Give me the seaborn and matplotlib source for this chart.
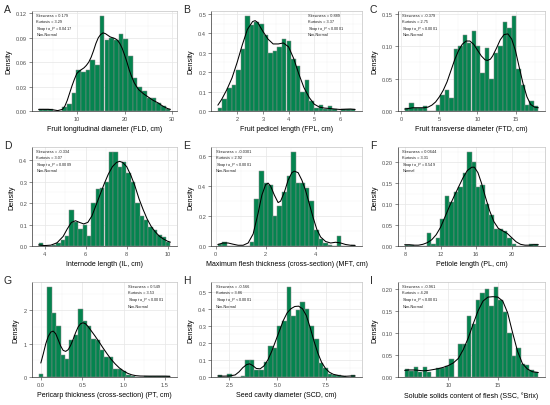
import numpy as np
import pandas as pd
import matplotlib
matplotlib.use("Agg")
import matplotlib.pyplot as plt
from matplotlib.ticker import AutoMinorLocator
import seaborn as sns

# ---- values ----
# each histogram: (first edge, last edge), bar densities, and the density curve
fld_range = (2.0, 29.6)
fld_heights = [0.002, 0.002, 0.002, 0, 0, 0.005, 0.008, 0.022, 0.050, 0.048, 0.050, 0.063, 0.056, 0.117,
               0.087, 0.090, 0.087, 0.095, 0.088, 0.067, 0.040, 0.029, 0.024, 0.016, 0.016, 0.010, 0.006, 0.003]
fld_curve_x = [2, 3, 4, 5, 6, 7, 7.5, 8, 8.5, 9, 9.5, 10, 10.5, 11, 11.5, 12, 12.5, 13, 13.5, 14, 14.5, 15,
               15.5, 16, 16.5, 17, 17.5, 18, 18.5, 19, 19.5, 20, 20.5, 21, 21.5, 22, 22.5, 23, 24, 25, 26,
               27, 28, 29, 29.6]
fld_curve_y = [0.002, 0.002, 0.002, 0.0015, 0.0005, 0.002, 0.006, 0.013, 0.022, 0.031, 0.039, 0.046, 0.049,
               0.051, 0.053, 0.056, 0.060, 0.066, 0.074, 0.083, 0.090, 0.094, 0.096, 0.095, 0.093, 0.091,
               0.090, 0.089, 0.087, 0.083, 0.077, 0.069, 0.060, 0.050, 0.042, 0.035, 0.030, 0.026, 0.021,
               0.017, 0.013, 0.010, 0.006, 0.003, 0.002]
fld_stats = ["0.179", "3.29", "= 0.0417", "Non-Normal"]

fpl_range = (1.25, 6.59)
fpl_heights = [0.015, 0.06, 0.12, 0.135, 0.21, 0.32, 0.49, 0.44, 0.46, 0.45, 0.39, 0.30, 0.31, 0.33, 0.37,
               0.36, 0.27, 0.23, 0.10, 0.16, 0.05, 0.015, 0.03, 0.01, 0.025, 0.01, 0.0, 0.01, 0.012, 0.012]
fpl_curve_x = [1.25, 1.4, 1.6, 1.8, 2.0, 2.2, 2.4, 2.6, 2.7, 2.8, 3.0, 3.2, 3.4, 3.6, 3.8, 4.0, 4.2, 4.4,
               4.6, 4.8, 5.0, 5.2, 5.4, 5.6, 5.8, 6.0, 6.2, 6.4, 6.59]
fpl_curve_y = [0.03, 0.06, 0.11, 0.17, 0.25, 0.34, 0.42, 0.46, 0.465, 0.455, 0.41, 0.37, 0.345, 0.345,
               0.35, 0.33, 0.27, 0.19, 0.12, 0.07, 0.035, 0.02, 0.015, 0.013, 0.01, 0.008, 0.009, 0.01, 0.008]
fpl_stats = ["0.889", "3.37", "< 0.0001", "Non-Normal"]

ftd_range = (0.43, 18.0)
ftd_heights = [0.004, 0.012, 0.004, 0.005, 0.007, 0, 0, 0.009, 0.025, 0.033, 0.02, 0.095, 0.10, 0.118,
               0.105, 0.124, 0.10, 0.058, 0.098, 0.05, 0.09, 0.10, 0.138, 0.128, 0.147, 0.065, 0.04, 0.01,
               0.015, 0.008]
ftd_curve_x = [0.43, 1, 1.5, 2, 2.5, 3, 3.5, 4, 4.5, 5, 5.5, 6, 6.5, 7, 7.5, 8, 8.5, 9, 9.5, 10, 10.5, 11,
               11.3, 11.7, 12, 12.5, 13, 13.5, 14, 14.5, 15, 15.5, 16, 16.5, 17, 17.5, 18.0]
ftd_curve_y = [0.003, 0.004, 0.005, 0.005, 0.005, 0.005, 0.006, 0.009, 0.014, 0.022, 0.032, 0.045, 0.062,
               0.079, 0.093, 0.103, 0.108, 0.108, 0.103, 0.094, 0.085, 0.079, 0.078, 0.080, 0.085, 0.097,
               0.110, 0.118, 0.119, 0.111, 0.093, 0.067, 0.042, 0.022, 0.010, 0.006, 0.005]
ftd_stats = ["-0.379", "2.75", "< 0.0001", "Non-Normal"]

il_range = (3.7, 10.13)
il_heights = [0.012, 0, 0, 0.005, 0.012, 0.03, 0.045, 0.17, 0.11, 0.08, 0.10, 0.045, 0.20, 0.265, 0.27,
              0.30, 0.44, 0.44, 0.37, 0.39, 0.34, 0.30, 0.20, 0.14, 0.12, 0.09, 0.075, 0.05, 0.04, 0.02]
il_curve_x = [3.7, 4.0, 4.3, 4.6, 4.9, 5.1, 5.3, 5.5, 5.7, 5.9, 6.1, 6.3, 6.5, 6.7, 6.9, 7.1, 7.3, 7.5,
              7.65, 7.8, 8.0, 8.2, 8.4, 8.6, 8.8, 9.0, 9.2, 9.4, 9.6, 9.8, 10.0, 10.13]
il_curve_y = [0.005, 0.002, 0.004, 0.015, 0.045, 0.08, 0.11, 0.118, 0.11, 0.103, 0.11, 0.14, 0.19, 0.24,
              0.29, 0.335, 0.37, 0.39, 0.395, 0.39, 0.37, 0.33, 0.28, 0.22, 0.17, 0.125, 0.09, 0.065,
              0.045, 0.032, 0.022, 0.018]
il_stats = ["-0.334", "3.07", "= 0.0009", "Non-Normal"]

mft_range = (0.09, 5.58)
mft_heights = [0.013, 0.026, 0, 0, 0, 0, 0, 0.026, 0.315, 0.50, 0.42, 0.41, 0.20, 0.27, 0.36, 0.465, 0.63,
               0.42, 0.42, 0.39, 0.30, 0.11, 0.05, 0.02, 0.01, 0, 0.07, 0, 0, 0.01]
mft_curve_x = [0.09, 0.3, 0.5, 0.7, 0.9, 1.1, 1.3, 1.5, 1.7, 1.85, 2.0, 2.1, 2.2, 2.35, 2.5, 2.6, 2.75,
               2.9, 3.05, 3.15, 3.3, 3.45, 3.6, 3.75, 3.9, 4.05, 4.2, 4.4, 4.6, 4.8, 5.0, 5.2, 5.4, 5.58]
mft_curve_y = [0.01, 0.02, 0.02, 0.012, 0.005, 0.005, 0.02, 0.08, 0.22, 0.34, 0.41, 0.42, 0.40, 0.34,
               0.29, 0.30, 0.36, 0.44, 0.49, 0.50, 0.49, 0.44, 0.37, 0.28, 0.19, 0.11, 0.06, 0.03, 0.02,
               0.025, 0.02, 0.01, 0.005, 0.004]
mft_stats = ["-0.0301", "2.92", "< 0.0001", "Non-Normal"]

pl_range = (7.95, 23.0)
pl_heights = [0.003, 0.003, 0, 0, 0, 0.03, 0.005, 0.02, 0.065, 0.12, 0.105, 0.13, 0.14, 0.175, 0.225,
              0.20, 0.14, 0.145, 0.10, 0.075, 0.04, 0.04, 0.035, 0.02, 0.005, 0, 0, 0, 0.004, 0.004]
pl_curve_x = [7.95, 8.5, 9, 9.5, 10, 10.5, 11, 11.5, 12, 12.5, 13, 13.5, 14, 14.5, 15, 15.5, 15.8, 16.2,
              16.6, 17, 17.5, 18, 18.5, 19, 19.5, 20, 20.5, 21, 21.5, 22, 22.5, 23]
pl_curve_y = [0.003, 0.003, 0.002, 0.002, 0.004, 0.008, 0.015, 0.027, 0.045, 0.07, 0.095, 0.118, 0.14,
              0.162, 0.18, 0.188, 0.188, 0.175, 0.15, 0.12, 0.085, 0.058, 0.042, 0.036, 0.03, 0.02, 0.01,
              0.004, 0.002, 0.002, 0.003, 0.003]
pl_stats = ["0.0644", "3.31", "= 0.549", "Normal"]

pt_range = (-0.027, 1.566)
pt_heights = [0.1, 0, 2.72, 1.92, 1.53, 0.66, 0.53, 1.1, 1.25, 2.05, 1.68, 1.53, 1.15, 1.1, 0.8, 0.6,
              0.6, 0.25, 0.25, 0.18, 0.05, 0.02, 0, 0, 0.03, 0.02, 0.03, 0.02, 0.03, 0.03]
pt_curve_x = [0, 0.03, 0.06, 0.09, 0.12, 0.15, 0.18, 0.21, 0.24, 0.27, 0.30, 0.33, 0.36, 0.39, 0.42,
              0.45, 0.48, 0.51, 0.54, 0.57, 0.6, 0.65, 0.7, 0.75, 0.8, 0.85, 0.9, 0.95, 1.0, 1.05, 1.1,
              1.15, 1.2, 1.3, 1.4, 1.5, 1.56]
pt_curve_y = [0.42, 0.7, 1.0, 1.22, 1.35, 1.38, 1.3, 1.12, 0.93, 0.8, 0.77, 0.82, 0.95, 1.13, 1.33, 1.5,
              1.6, 1.63, 1.6, 1.52, 1.42, 1.25, 1.07, 0.88, 0.7, 0.53, 0.39, 0.27, 0.18, 0.11, 0.065,
              0.04, 0.03, 0.025, 0.025, 0.025, 0.02]
pt_stats = ["0.549", "3.53", "< 0.0001", "Non-Normal"]

scd_range = (1.9, 9.04)
scd_heights = [0.01, 0, 0.02, 0, 0, 0.005, 0.10, 0.10, 0.04, 0.04, 0.085, 0.18, 0.17, 0.30, 0.33, 0.53,
               0.36, 0.39, 0.44, 0.40, 0.30, 0.22, 0.08, 0.05, 0.02, 0.01, 0.01, 0.005, 0, 0.01]
scd_curve_x = [1.9, 2.2, 2.5, 2.8, 3.0, 3.2, 3.4, 3.55, 3.7, 3.9, 4.1, 4.3, 4.5, 4.7, 4.9, 5.1, 5.3, 5.5,
               5.7, 5.9, 6.1, 6.3, 6.5, 6.7, 6.9, 7.1, 7.3, 7.5, 7.7, 7.9, 8.2, 8.5, 8.8, 9.04]
scd_curve_y = [0.006, 0.005, 0.006, 0.012, 0.03, 0.055, 0.073, 0.077, 0.068, 0.05, 0.048, 0.065, 0.10,
               0.15, 0.21, 0.27, 0.33, 0.375, 0.40, 0.413, 0.415, 0.40, 0.36, 0.29, 0.21, 0.14, 0.085,
               0.05, 0.028, 0.016, 0.008, 0.004, 0.006, 0.006]
scd_stats = ["-0.566", "3.86", "< 0.0001", "Non-Normal"]

ssc_range = (5.57, 19.1)
ssc_heights = [0.017, 0.013, 0.022, 0.012, 0.022, 0.012, 0, 0.02, 0.02, 0.025, 0.04, 0, 0.075, 0.075,
               0.138, 0.12, 0.175, 0.19, 0.20, 0.16, 0.205, 0.175, 0.147, 0.10, 0.048, 0.066, 0.03, 0.027,
               0.016, 0.011]
ssc_curve_x = [5.57, 6, 6.5, 7, 7.5, 8, 8.5, 9, 9.5, 10, 10.5, 11, 11.5, 12, 12.5, 13, 13.5, 14, 14.5, 15,
               15.5, 16, 16.5, 17, 17.5, 18, 18.5, 19.1]
ssc_curve_y = [0.015, 0.016, 0.016, 0.015, 0.014, 0.015, 0.017, 0.019, 0.022, 0.026, 0.032, 0.042, 0.062,
               0.088, 0.12, 0.15, 0.172, 0.181, 0.182, 0.181, 0.172, 0.145, 0.1, 0.058, 0.03, 0.018, 0.012,
               0.01]
ssc_stats = ["-0.961", "4.28", "< 0.0001", "Non-Normal"]

letters = ["A", "B", "C", "D", "E", "F", "G", "H", "I"]
xlabels = ["Fruit longitudinal diameter (FLD, cm)", "Fruit pedicel length (FPL, cm)",
           "Fruit transverse diameter (FTD, cm)", "Internode length (IL, cm)",
           "Maximum flesh thickness (cross-section) (MFT, cm)", "Petiole length (PL, cm)",
           "Pericarp thickness (cross-section) (PT, cm)", "Seed cavity diameter (SCD, cm)",
           "Soluble solids content of flesh (SSC, \u00b0Brix)"]
xticks = [[10, 20, 30], [2, 3, 4, 5, 6], [0, 5, 10, 15], [4, 6, 8, 10], [0, 2, 4], [8, 12, 16, 20],
          [0.0, 0.5, 1.0, 1.5], [2.5, 5.0, 7.5], [10, 15]]
xfmt = ["%d", "%d", "%d", "%d", "%d", "%d", "%.1f", "%.1f", "%d"]
yticks = [[0, 0.03, 0.06, 0.09, 0.12], [0, 0.1, 0.2, 0.3, 0.4, 0.5], [0, 0.05, 0.10, 0.15],
          [0, 0.1, 0.2, 0.3, 0.4], [0, 0.2, 0.4, 0.6], [0, 0.05, 0.10, 0.15, 0.20], [0, 1, 2],
          [0, 0.1, 0.2, 0.3, 0.4, 0.5], [0, 0.05, 0.10, 0.15, 0.20]]
yfmt = ["%.2f", "%.1f", "%.2f", "%.1f", "%.1f", "%.2f", "%d", "%.1f", "%.2f"]

ranges = [fld_range, fpl_range, ftd_range, il_range, mft_range, pl_range, pt_range, scd_range, ssc_range]
heights = [fld_heights, fpl_heights, ftd_heights, il_heights, mft_heights, pl_heights, pt_heights,
           scd_heights, ssc_heights]
curves_x = [fld_curve_x, fpl_curve_x, ftd_curve_x, il_curve_x, mft_curve_x, pl_curve_x, pt_curve_x,
            scd_curve_x, ssc_curve_x]
curves_y = [fld_curve_y, fpl_curve_y, ftd_curve_y, il_curve_y, mft_curve_y, pl_curve_y, pt_curve_y,
            scd_curve_y, ssc_curve_y]
stats = [fld_stats, fpl_stats, ftd_stats, il_stats, mft_stats, pl_stats, pt_stats, scd_stats, ssc_stats]

# where the stats block starts (axes fraction); B and G sit on the right
stat_x = [0.03, 0.64, 0.03, 0.03, 0.03, 0.03, 0.66, 0.03, 0.03]

# layout in pixels of the 550x406 picture
W, H = 550, 406
col_left = [32, 211, 398]
col_right = [177, 362, 545]
row_top = [12, 148, 283]
row_bottom = [112, 247, 378]

GREEN = "#04844f"
PX = 72 / 100  # points per pixel at dpi 100

sns.set_theme(style="white")
plt.rcParams["font.family"] = ["Liberation Sans", "DejaVu Sans"]
plt.rcParams["mathtext.fontset"] = "custom"
plt.rcParams["mathtext.rm"] = "Liberation Sans"
plt.rcParams["mathtext.it"] = "Liberation Sans:italic"

fig = plt.figure(figsize=(W / 100, H / 100), dpi=100)

for k in range(9):
    r, c = divmod(k, 3)
    ax = fig.add_axes([col_left[c] / W, 1 - row_bottom[r] / H,
                       (col_right[c] - col_left[c]) / W, (row_bottom[r] - row_top[r]) / H])
    lo, hi = ranges[k]
    h = np.array(heights[k], dtype=float)
    nb = len(h)
    edges = np.linspace(lo, hi, nb + 1)
    bars = pd.DataFrame({"mid": (edges[:-1] + edges[1:]) / 2, "density": h})
    curve = pd.DataFrame({"x": curves_x[k], "y": curves_y[k]})

    sns.histplot(data=bars, x="mid", weights="density", bins=nb, binrange=(lo, hi), stat="count",
                 color=GREEN, alpha=1, edgecolor="#8a8a8a", linewidth=0.35, ax=ax, zorder=2)
    sns.lineplot(data=curve, x="x", y="y", color="black", linewidth=0.75, errorbar=None,
                 ax=ax, zorder=3)

    pad = 0.05 * (hi - lo)
    ax.set_xlim(lo - pad, hi + pad)
    ax.set_ylim(0, h.max() * 1.05)
    ax.set_xticks(xticks[k])
    ax.set_xticklabels([xfmt[k] % v for v in xticks[k]])
    ax.set_yticks(yticks[k])
    ax.set_yticklabels([yfmt[k] % v for v in yticks[k]])

    ax.set_axisbelow(True)
    ax.xaxis.set_minor_locator(AutoMinorLocator(2))
    ax.yaxis.set_minor_locator(AutoMinorLocator(2))
    ax.grid(which="major", color="#e6e6e6", linewidth=0.5)
    ax.grid(which="minor", color="#f1f1f1", linewidth=0.3)
    ax.tick_params(which="minor", length=0)
    ax.tick_params(which="major", length=2, width=0.4, color="#333333", labelsize=4.1,
                   labelcolor="#4d4d4d", pad=1.5, bottom=True, left=True)
    for side in ["left", "bottom"]:
        ax.spines[side].set_color("#333333")
        ax.spines[side].set_linewidth(0.5)
    for side in ["top", "right"]:
        ax.spines[side].set_color("#c4c4c4")
        ax.spines[side].set_linewidth(0.5)

    ax.set_xlabel(xlabels[k], fontsize=5, labelpad=3, color="black")
    ax.set_ylabel("Density", fontsize=5.3, labelpad=3, color="black")

    ax.annotate(letters[k], xy=(0, 1), xycoords="axes fraction", xytext=(-28 * PX, -1 * PX),
                textcoords="offset points", fontsize=7.5, ha="left", va="baseline")

    s = stats[k]
    lines = ["Skewness = " + s[0], "Kurtosis = " + s[1], "Shapiro_$P$ " + s[2], s[3]]
    for j, txt in enumerate(lines):
        ax.annotate(txt, xy=(stat_x[k], 1), xycoords="axes fraction",
                    xytext=(0, -(3.7 + 6.6 * j) * PX), textcoords="offset points",
                    fontsize=2.8, ha="left", va="center", color="#222222", zorder=5)

fig.savefig("out.png", dpi=100)
